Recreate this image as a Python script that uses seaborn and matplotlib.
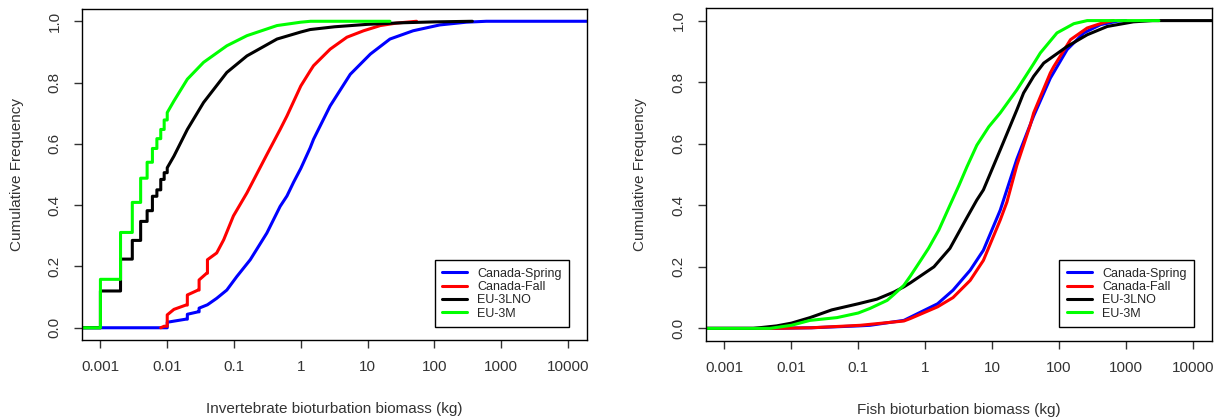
import matplotlib
matplotlib.use('Agg')
import matplotlib.pyplot as plt
from matplotlib.lines import Line2D
from matplotlib.ticker import NullLocator
import seaborn as sns
import pandas as pd

sns.set_style('white')
plt.rcParams['font.family'] = ['Liberation Sans', 'DejaVu Sans']

# series names and colours (R base colours)
surveys = ['Canada-Spring', 'Canada-Fall', 'EU-3LNO', 'EU-3M']
colors = ['#0000FF', '#FF0000', '#000000', '#00FF00']

# --- invertebrate panel: biomass (kg) and cumulative frequency
inv_spring_x = [0.0005, 0.01, 0.01, 0.019, 0.02, 0.02, 0.029, 0.03, 0.03, 0.04, 0.055, 0.078, 0.11,
                0.175, 0.31, 0.49, 0.62, 0.78, 1.0, 1.38, 1.55, 2.75, 5.5, 11, 21.6, 48, 120, 300,
                600, 20000]
inv_spring_y = [0, 0, 0.018, 0.028, 0.028, 0.044, 0.052, 0.052, 0.064, 0.075, 0.096, 0.123, 0.167,
                0.222, 0.309, 0.396, 0.43, 0.475, 0.52, 0.587, 0.615, 0.724, 0.827, 0.893, 0.942,
                0.969, 0.988, 0.997, 1.0, 1.0]

inv_fall_x = [0.008, 0.009, 0.01, 0.01, 0.0126, 0.019, 0.02, 0.02, 0.029, 0.03, 0.03, 0.039, 0.04,
              0.04, 0.055, 0.07, 0.098, 0.156, 0.31, 0.49, 0.62, 0.69, 1.0, 1.38, 1.55, 2.75, 4.9,
              8.7, 15.5, 27, 54]
inv_fall_y = [0, 0.005, 0.005, 0.042, 0.06, 0.074, 0.074, 0.107, 0.123, 0.123, 0.156, 0.178, 0.178,
              0.222, 0.244, 0.287, 0.365, 0.44, 0.565, 0.647, 0.691, 0.713, 0.789, 0.838, 0.855,
              0.909, 0.948, 0.969, 0.986, 0.994, 1.0]

inv_3lno_x = [0.0005, 0.001, 0.001, 0.002, 0.002, 0.003, 0.003, 0.004, 0.004, 0.005, 0.005, 0.006,
              0.006, 0.007, 0.007, 0.008, 0.008, 0.009, 0.009, 0.01, 0.01, 0.0126, 0.02, 0.035,
              0.078, 0.156, 0.44, 1.0, 1.38, 3.2, 10, 32, 100, 370]
inv_3lno_y = [0, 0, 0.12, 0.12, 0.224, 0.224, 0.285, 0.285, 0.347, 0.347, 0.382, 0.382, 0.429,
              0.429, 0.45, 0.45, 0.484, 0.484, 0.506, 0.506, 0.522, 0.56, 0.647, 0.735, 0.833,
              0.887, 0.942, 0.965, 0.973, 0.982, 0.99, 0.995, 0.998, 1.0]

inv_3m_x = [0.0005, 0.001, 0.001, 0.002, 0.002, 0.003, 0.003, 0.004, 0.004, 0.005, 0.005, 0.006,
            0.006, 0.007, 0.007, 0.008, 0.008, 0.009, 0.009, 0.01, 0.01, 0.0126, 0.02, 0.035,
            0.078, 0.156, 0.44, 1.0, 1.4, 21.6]
inv_3m_y = [0, 0, 0.158, 0.158, 0.311, 0.311, 0.409, 0.409, 0.488, 0.488, 0.540, 0.540, 0.585,
            0.585, 0.617, 0.617, 0.647, 0.647, 0.678, 0.678, 0.702, 0.74, 0.811, 0.866, 0.92,
            0.953, 0.986, 0.997, 1.0, 1.0]

# --- fish panel
fish_spring_x = [0.0005, 0.005, 0.02, 0.1, 0.15, 0.48, 1.53, 2.6, 4.7, 7.4, 13.2, 14.8, 23.4, 33,
                 41.7, 74, 132, 234, 417, 741, 1000]
fish_spring_y = [0, 0, 0.002, 0.008, 0.01, 0.026, 0.08, 0.124, 0.189, 0.254, 0.384, 0.417, 0.55,
                 0.634, 0.69, 0.813, 0.906, 0.96, 0.987, 0.998, 1.0]

fish_fall_x = [0.0005, 0.005, 0.02, 0.107, 0.48, 0.6, 1.53, 2.6, 4.7, 7.4, 13.2, 16.6, 23.4, 37,
               41.7, 74, 83, 148, 263, 468, 650]
fish_fall_y = [0, 0, 0.002, 0.01, 0.024, 0.032, 0.07, 0.10, 0.156, 0.221, 0.352, 0.41, 0.53, 0.66,
               0.70, 0.83, 0.85, 0.938, 0.976, 0.994, 1.0]

fish_3lno_x = [0.0005, 0.0027, 0.006, 0.01, 0.019, 0.04, 0.1, 0.19, 0.34, 0.48, 0.6, 1.35, 2.34,
               4.2, 5.9, 7.4, 13.2, 23.4, 29.5, 41.7, 59, 132, 263, 525, 1290, 2500, 20000]
fish_3lno_y = [0, 0, 0.008, 0.017, 0.035, 0.06, 0.08, 0.095, 0.118, 0.135, 0.148, 0.20, 0.26,
               0.36, 0.417, 0.45, 0.58, 0.71, 0.765, 0.819, 0.862, 0.916, 0.954, 0.981, 0.996,
               1.0, 1.0]

fish_3m_x = [0.0005, 0.0048, 0.01, 0.019, 0.048, 0.1, 0.15, 0.27, 0.34, 0.48, 0.6, 0.85, 1.12,
             1.6, 2.34, 3.2, 4.2, 5.9, 8.9, 13.2, 23.4, 41.7, 52.5, 93, 166, 263, 3100]
fish_3m_y = [0, 0, 0.01, 0.026, 0.035, 0.05, 0.065, 0.091, 0.11, 0.14, 0.17, 0.22, 0.26,
             0.32, 0.40, 0.465, 0.525, 0.595, 0.655, 0.70, 0.775, 0.86, 0.895, 0.96, 0.99, 1.0, 1.0]

xtick_vals = [0.001, 0.01, 0.1, 1, 10, 100, 1000, 10000]
xtick_labels = ['0.001', '0.01', '0.1', '1', '10', '100', '1000', '10000']
ytick_vals = [0.0, 0.2, 0.4, 0.6, 0.8, 1.0]
ytick_labels = ['0.0', '0.2', '0.4', '0.6', '0.8', '1.0']


def make_frame(xs, ys):
    parts = []
    for name, x, y in zip(surveys, xs, ys):
        parts.append(pd.DataFrame({'biomass': x, 'cumfreq': y, 'survey': name}))
    return pd.concat(parts, ignore_index=True)


inv_df = make_frame([inv_spring_x, inv_fall_x, inv_3lno_x, inv_3m_x],
                    [inv_spring_y, inv_fall_y, inv_3lno_y, inv_3m_y])
fish_df = make_frame([fish_spring_x, fish_fall_x, fish_3lno_x, fish_3m_x],
                     [fish_spring_y, fish_fall_y, fish_3lno_y, fish_3m_y])

fig = plt.figure(figsize=(12.18, 4.19), dpi=100)
ax1 = fig.add_axes([0.0671, 0.1885, 0.4146, 0.790])
ax2 = fig.add_axes([0.5794, 0.1869, 0.4154, 0.7933])

text_col = '#333333'
palette = dict(zip(surveys, colors))

for ax, df, xlabel, leg_y in [(ax1, inv_df, 'Invertebrate bioturbation biomass (kg)', 0.039),
                              (ax2, fish_df, 'Fish bioturbation biomass (kg)', 0.041)]:
    sns.lineplot(data=df, x='biomass', y='cumfreq', hue='survey', hue_order=surveys,
                 palette=palette, estimator=None, sort=True, linewidth=2.2,
                 legend=False, ax=ax)
    ax.set_xscale('log')
    ax.set_xlim(10 ** -3.28, 10 ** 4.28)
    ax.set_ylim(-0.04, 1.04)
    ax.set_xticks(xtick_vals)
    ax.set_xticklabels(xtick_labels)
    ax.xaxis.set_minor_locator(NullLocator())
    ax.set_yticks(ytick_vals)
    ax.set_yticklabels(ytick_labels, rotation=90, va='center')
    ax.tick_params(direction='out', length=6, width=1, color=text_col,
                   labelcolor=text_col, labelsize=11, pad=8.5)
    ax.tick_params(axis='x', bottom=True)
    ax.tick_params(axis='y', left=True)
    for sp in ax.spines.values():
        sp.set_visible(True)
        sp.set_color('black')
        sp.set_linewidth(1.0)

    ax.set_xlabel(xlabel, fontsize=11, color=text_col)
    ax.set_ylabel('Cumulative Frequency', fontsize=11, color=text_col)
    ax.xaxis.label.set_va('center')
    ax.yaxis.label.set_va('center')
    ax.xaxis.set_label_coords(0.5, -0.208)
    ax.yaxis.set_label_coords(-0.129, 0.5)

    handles = [Line2D([], [], color=c, lw=2.2) for c in colors]
    leg = ax.legend(handles, surveys, loc='lower right', bbox_to_anchor=(0.965, leg_y),
                    frameon=True, fancybox=False, edgecolor='black', framealpha=1,
                    fontsize=9, handlelength=2.0, labelspacing=0.1, borderpad=0.6,
                    handletextpad=0.8, borderaxespad=0)
    leg.get_frame().set_linewidth(1.0)

fig.savefig('out.png', dpi=100)
